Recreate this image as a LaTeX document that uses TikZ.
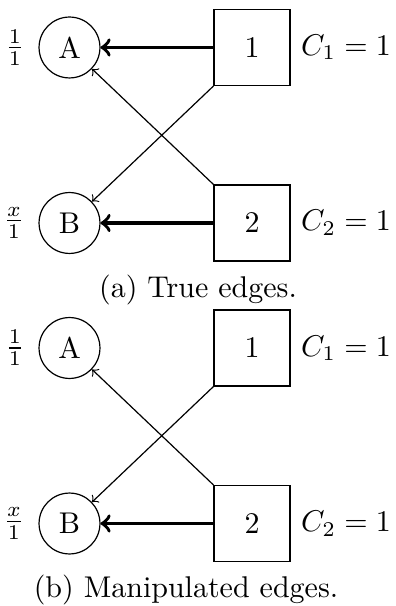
\documentclass[tikz,border=0pt]{standalone}
\usepackage{amsmath}
\usetikzlibrary{positioning}
\begin{document}
\begin{tikzpicture}[x=0.3333pt, y=-0.3333pt,
  vtx/.style={draw, circle, minimum size=20.3pt, inner sep=0pt},
  src/.style={draw, minimum size=25.3pt, inner sep=0pt},
  wt/.style={inner sep=0pt},
  strong/.style={->, very thick},
  weak/.style={->}
]
\useasboundingbox (0,0) rectangle (395,606);
% (a) true edges
\node[vtx] (a1) at (69.5,47.5) {A};
\node[vtx] (b1) at (69.5,223) {B};
\node[src] (s1) at (252,47.5) {1};
\node[src] (t1) at (252,223) {2};
\node[wt, left=4.5pt of a1] (fa1) {$\frac{1}{1}$};
\node[wt, left=4.5pt of b1] (fb1) {$\frac{x}{1}$};
\node[wt, right=3.3pt of s1] (cs1) {$C_1 = 1$};
\node[wt, right=3.3pt of t1] (ct1) {$C_2 = 1$};
\node (capa) at (198,290) {(a) True edges.};

\draw[strong] (s1) -- (a1);
\draw[strong] (t1) -- (b1);
\draw[weak] (s1.south west) -- (b1);
\draw[weak] (t1.north west) -- (a1);

% (b) manipulated edges
\node[vtx] (a2) at (69.5,348) {A};
\node[vtx] (b2) at (69.5,523.5) {B};
\node[src] (s2) at (252,348) {1};
\node[src] (t2) at (252,523.5) {2};
\node[wt, left=4.5pt of a2] (fa2) {$\frac{1}{1}$};
\node[wt, left=4.5pt of b2] (fb2) {$\frac{x}{1}$};
\node[wt, right=3.3pt of s2] (cs2) {$C_1 = 1$};
\node[wt, right=3.3pt of t2] (ct2) {$C_2 = 1$};
\node (capb) at (186,590) {(b) Manipulated edges.};

\draw[strong] (t2) -- (b2);
\draw[weak] (s2.south west) -- (b2);
\draw[weak] (t2.north west) -- (a2);
\end{tikzpicture}
\end{document}
